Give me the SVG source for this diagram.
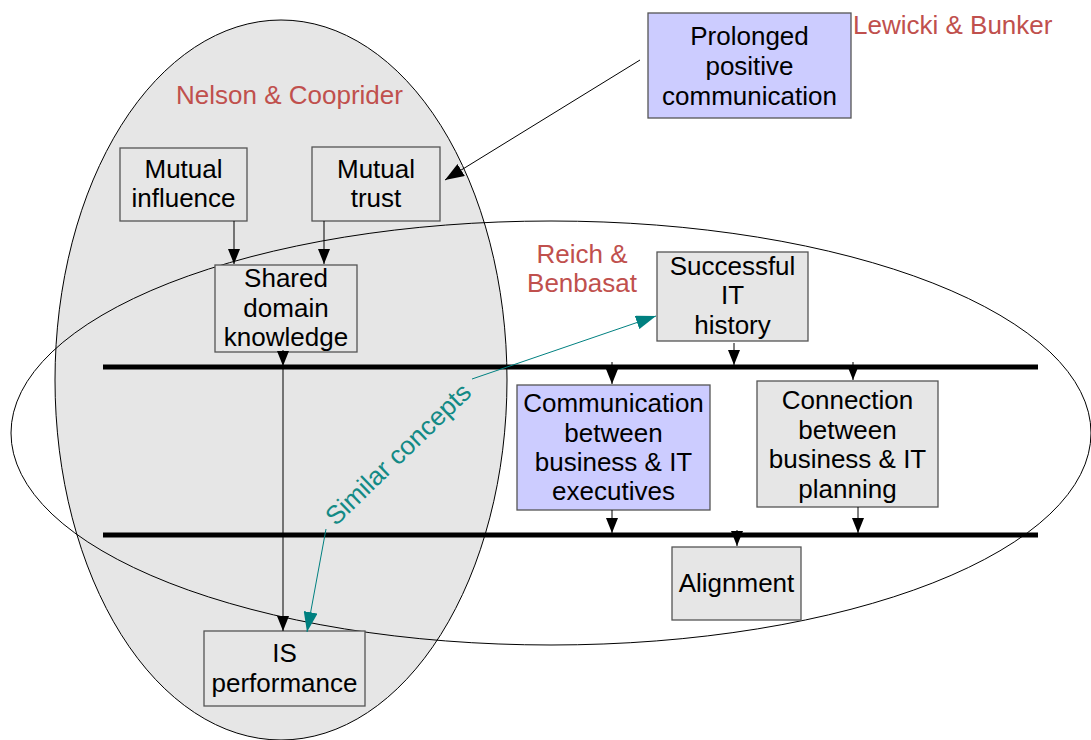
<svg xmlns="http://www.w3.org/2000/svg" width="1091" height="740" viewBox="0 0 1091 740">
<defs>
<style>
.box{fill:#e6e6e6;stroke:#555;stroke-width:1.3}
.blue{fill:#ccccff;stroke:#555;stroke-width:1.3}
.t{font-family:"Liberation Sans",Arial,sans-serif;font-size:26px;fill:#000;text-anchor:middle}
.lab{font-family:"Liberation Sans",Arial,sans-serif;font-size:26px;fill:#c0504d}
.c{stroke:#000;stroke-width:1;fill:none}
.teal{stroke:#008080;stroke-width:1;fill:none}
.bar{stroke:#000;stroke-width:5}
</style>
<marker id="ah" viewBox="0 0 12 12" refX="12" refY="6" markerWidth="15" markerHeight="12" markerUnits="userSpaceOnUse" orient="auto" preserveAspectRatio="none"><path d="M0,0 L12,6 L0,12 z" fill="#000"/></marker>
<marker id="ahL" viewBox="0 0 12 12" refX="12" refY="6" markerWidth="19" markerHeight="14" markerUnits="userSpaceOnUse" orient="auto" preserveAspectRatio="none"><path d="M0,0 L12,6 L0,12 z" fill="#000"/></marker>
<marker id="aht" viewBox="0 0 12 12" refX="12" refY="6" markerWidth="20" markerHeight="14" markerUnits="userSpaceOnUse" orient="auto" preserveAspectRatio="none"><path d="M0,0 L12,6 L0,12 z" fill="#008080"/></marker>
</defs>
<rect width="1091" height="740" fill="#fff"/>
<g id="nelson-ellipse"><ellipse cx="281" cy="380" rx="226" ry="360" fill="#e6e6e6" stroke="#000" stroke-width="1"/></g>
<g id="reich-ellipse"><ellipse cx="551" cy="433" rx="540" ry="212" fill="none" stroke="#000" stroke-width="1"/></g>
<g id="bars">
<line class="bar" x1="103" y1="367" x2="1038" y2="367"/>
<line class="bar" x1="103" y1="535" x2="1038" y2="535"/>
</g>
<g id="labels">
<text class="lab" x="853" y="34">Lewicki &amp; Bunker</text>
<text class="lab" x="176" y="104">Nelson &amp; Cooprider</text>
<text class="lab" x="582" y="263" text-anchor="middle">Reich &amp;</text>
<text class="lab" x="582" y="292" text-anchor="middle">Benbasat</text>
</g>
<g id="prolonged"><rect class="blue" x="648" y="13" width="203" height="105"/>
<text class="t" x="749.5" y="45">Prolonged</text><text class="t" x="749.5" y="75">positive</text><text class="t" x="749.5" y="105">communication</text></g>
<g id="mutual-influence"><rect class="box" x="120" y="148" width="127" height="73"/>
<text class="t" x="183.5" y="178">Mutual</text><text class="t" x="183.5" y="207">influence</text></g>
<g id="mutual-trust"><rect class="box" x="312" y="147" width="128" height="74"/>
<text class="t" x="376" y="178">Mutual</text><text class="t" x="376" y="207">trust</text></g>
<g id="shared"><rect class="box" x="215" y="265" width="142" height="87"/>
<text class="t" x="286" y="287">Shared</text><text class="t" x="286" y="317">domain</text><text class="t" x="286" y="346">knowledge</text></g>
<g id="successful"><rect class="box" x="657" y="252" width="151" height="89"/>
<text class="t" x="732.5" y="275">Successful</text><text class="t" x="732.5" y="304">IT</text><text class="t" x="732.5" y="334">history</text></g>
<g id="communication"><rect class="blue" x="517" y="385" width="193" height="125"/>
<text class="t" x="613.5" y="412">Communication</text><text class="t" x="613.5" y="442">between</text><text class="t" x="613.5" y="471">business &amp; IT</text><text class="t" x="613.5" y="500">executives</text></g>
<g id="connection"><rect class="box" x="757" y="381" width="181" height="126"/>
<text class="t" x="847.5" y="409">Connection</text><text class="t" x="847.5" y="439">between</text><text class="t" x="847.5" y="468">business &amp; IT</text><text class="t" x="847.5" y="498">planning</text></g>
<g id="alignment"><rect class="box" x="672" y="547" width="129" height="73"/>
<text class="t" x="736.5" y="592">Alignment</text></g>
<g id="is-performance"><rect class="box" x="204" y="631" width="161" height="75"/>
<text class="t" x="284.5" y="662">IS</text><text class="t" x="284.5" y="692">performance</text></g>
<g id="connectors">
<line class="c" x1="640" y1="60" x2="445" y2="180" marker-end="url(#ahL)"/>
<line class="c" x1="234" y1="221" x2="234" y2="264" marker-end="url(#ah)"/>
<line class="c" x1="324" y1="221" x2="324" y2="264" marker-end="url(#ah)"/>
<line class="c" x1="283" y1="350" x2="283" y2="366" marker-end="url(#ah)"/>
<line class="c" x1="283" y1="369" x2="283" y2="631" marker-end="url(#ah)"/>
<line class="c" x1="734" y1="343" x2="734" y2="365" marker-end="url(#ah)"/>
<line class="c" x1="612" y1="362" x2="612" y2="384" marker-end="url(#ah)"/>
<line class="c" x1="853" y1="362" x2="853" y2="380" marker-end="url(#ah)"/>
<line class="c" x1="612" y1="510" x2="612" y2="533" marker-end="url(#ah)"/>
<line class="c" x1="858" y1="507" x2="858" y2="533" marker-end="url(#ah)"/>
<line class="c" x1="737" y1="530" x2="737" y2="546" marker-end="url(#ah)"/>
<line class="teal" x1="472" y1="379" x2="656" y2="316" marker-end="url(#aht)"/>
<line class="teal" x1="326" y1="529" x2="307" y2="632" marker-end="url(#aht)"/>
<text x="398" y="463" transform="rotate(-44 398 454)" font-family="Liberation Sans, Arial, sans-serif" font-size="26" fill="#138a85" text-anchor="middle">Similar concepts</text>
</g>
</svg>
